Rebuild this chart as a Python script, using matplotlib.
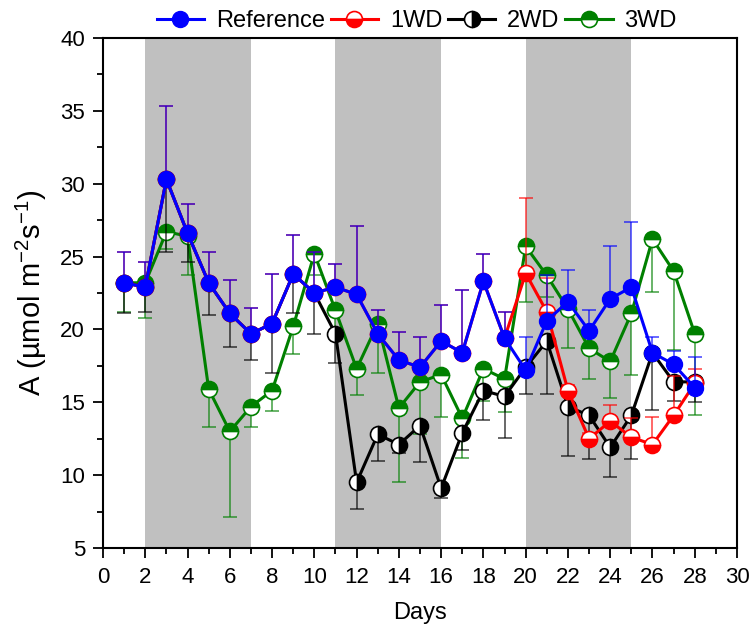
import numpy as np
import matplotlib
matplotlib.use("Agg")
import matplotlib.pyplot as plt
from matplotlib.ticker import MultipleLocator

plt.rcParams['font.family'] = ['Liberation Sans', 'DejaVu Sans']
plt.rcParams['mathtext.default'] = 'regular'

days = list(range(1, 29))

ref = [23.2, 22.9, 30.3, 26.6, 23.2, 21.1, 19.7, 20.4, 23.8, 22.5, 22.9, 22.4, 19.7, 17.9,
       17.4, 19.2, 18.4, 23.3, 19.4, 17.2, 20.6, 21.9, 19.9, 22.1, 22.9, 18.4, 17.6, 16.0]
ref_err = [2.1, 1.7, 5.0, 2.0, 2.1, 2.3, 1.8, 3.4, 2.7, 2.8, 1.6, 4.7, 1.6, 1.9,
           2.1, 2.5, 4.3, 1.9, 1.8, 2.3, 3.1, 2.2, 1.4, 3.6, 4.5, 1.1, 0.9, 2.1]

wd1 = ref[:19] + [23.85, 21.2, 15.8, 12.5, 13.7, 12.6, 12.1, 14.1, 16.3]
wd1_err = ref_err[:19] + [5.2, 2.3, 0.4, 0.4, 1.1, 1.35, 1.9, 2.7, 1.0]

wd2 = ref[:10] + [19.7, 9.5, 12.8, 12.1, 13.4, 9.1, 12.9, 15.8, 15.4,
                  17.4, 19.2, 14.7, 14.1, 11.9, 14.1, 18.4, 16.4, 16.4]
wd2_err = [2.1, 1.7, 5.0, 2.0, 2.2, 2.3, 1.8, 3.4, 2.7, 2.8,
           2.0, 1.8, 1.8, 0.6, 2.5, 0.7, 1.15, 2.0, 2.85,
           1.8, 3.6, 3.4, 3.0, 2.0, 3.0, 3.9, 1.3, 1.4]

wd3 = [23.2, 23.2, 26.7, 26.4, 15.9, 13.0, 14.7, 15.8, 20.2, 25.2, 21.3, 17.3, 20.4, 14.6,
       16.4, 16.9, 13.9, 17.3, 16.6, 25.7, 23.7, 21.4, 18.7, 17.8, 21.1, 26.2, 24.0, 19.7]
wd3_err = [2.0, 2.4, 1.2, 2.7, 2.6, 5.9, 1.4, 1.4, 1.9, 1.5, 1.5, 1.8, 3.4, 5.1,
           3.6, 2.9, 2.7, 2.2, 2.3, 3.8, 1.5, 2.7, 2.1, 2.5, 4.2, 3.6, 5.4, 5.6]

shade_spans = [(2, 7), (11, 16), (20, 25)]

fig = plt.figure(figsize=(7.53, 6.33), dpi=100)
ax = fig.add_axes([0.1368, 0.1343, 0.8420, 0.8057])

for a, b in shade_spans:
    ax.axvspan(a, b, color='#c0c0c0', lw=0, zorder=0)

ms = 11.5
lw = 2.2

def plot_series(y, err, color, fill, upper, z, label, ecol):
    yerr = [np.zeros(len(err)), err] if upper else [err, np.zeros(len(err))]
    ax.errorbar(days, y, yerr=yerr, fmt='none', ecolor=ecol, elinewidth=1.1,
                capsize=5, capthick=1.1, zorder=z, alpha=0.75)
    if fill == 'full':
        ax.plot(days, y, '-o', color=color, lw=lw, ms=ms, mec=color, mfc=color,
                zorder=z + 0.5, label=label)
    else:
        ax.plot(days, y, '-o', color=color, lw=lw, ms=ms, mec=color, mfc=color,
                fillstyle=fill, markerfacecoloralt='white', mew=1.2,
                zorder=z + 0.5, label=label)

plot_series(wd3, wd3_err, 'green', 'top', False, 2, '3WD', 'green')
plot_series(wd2, wd2_err, 'black', 'right', False, 3, '2WD', 'black')
plot_series(wd1, wd1_err, 'red', 'bottom', True, 4, '1WD', 'red')
plot_series(ref, ref_err, 'blue', 'full', True, 5, 'Reference', 'blue')

ax.set_xlim(0, 30)
ax.set_ylim(5, 40)
ax.xaxis.set_major_locator(MultipleLocator(2))
ax.xaxis.set_minor_locator(MultipleLocator(1))
ax.yaxis.set_major_locator(MultipleLocator(5))
ax.yaxis.set_minor_locator(MultipleLocator(2.5))
ax.tick_params(which='major', direction='out', length=7, width=1.3, labelsize=16)
ax.tick_params(axis='y', which='major', pad=6)
ax.tick_params(axis='x', which='major', pad=7)
ax.tick_params(which='minor', direction='out', length=4, width=1.3)
for s in ax.spines.values():
    s.set_linewidth(1.5)

ax.set_xlabel('Days', fontsize=17, labelpad=10)
ax.set_ylabel('A (µmol m$^{-2}$s$^{-1}$)', fontsize=21, labelpad=8)

handles, labels = ax.get_legend_handles_labels()
order = [labels.index(l) for l in ['Reference', '1WD', '2WD', '3WD']]
ax.legend([handles[i] for i in order], [labels[i] for i in order], ncol=4,
          loc='lower center', bbox_to_anchor=(0.495, 1.012), frameon=False,
          fontsize=17, handlelength=2.0, columnspacing=0.25, handletextpad=0.5,
          borderaxespad=0, borderpad=0)

fig.savefig('out.png', dpi=100)
